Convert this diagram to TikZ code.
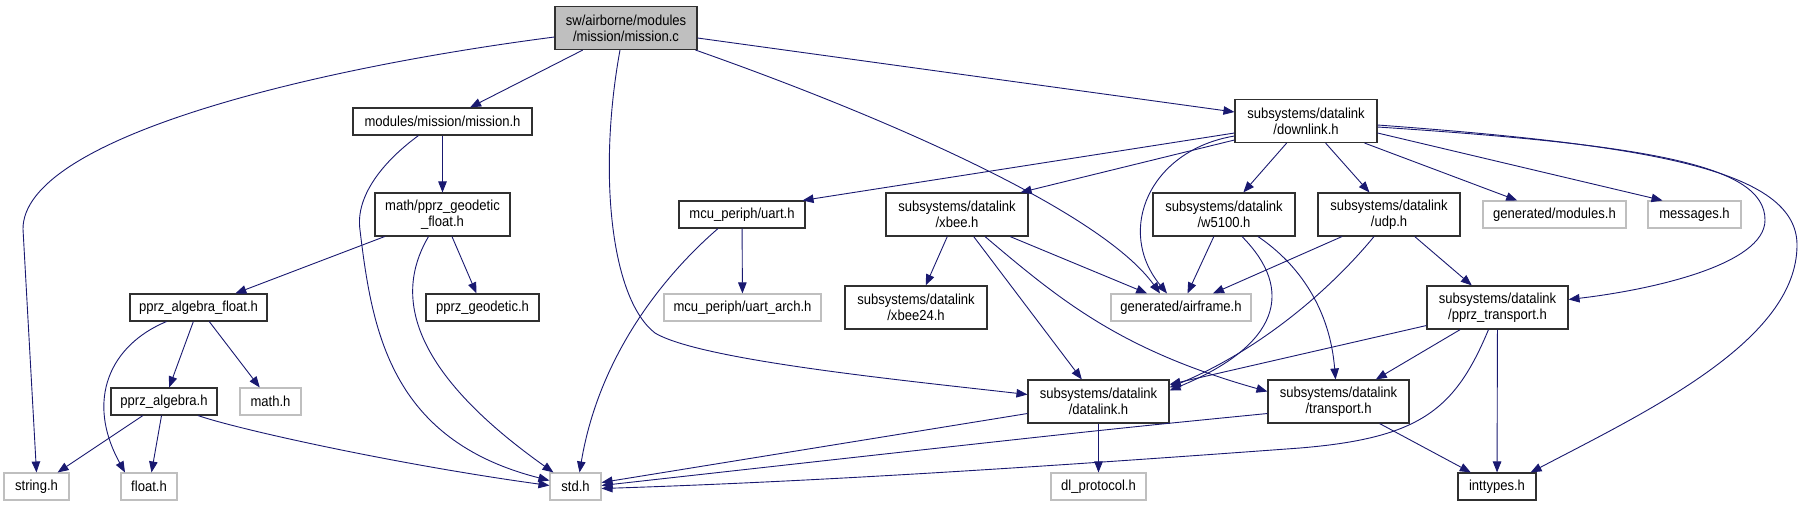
\documentclass[tikz,border=0pt]{standalone}
\usepackage{fontspec}
\setmainfont[FakeStretch=0.9]{Liberation Sans}
\usetikzlibrary{arrows.meta}
\definecolor{edgeblue}{HTML}{191970}
\definecolor{boxgray}{HTML}{BFBFBF}
\definecolor{boxdark}{HTML}{303030}

\begin{document}
\begin{tikzpicture}[x=1pt,y=-1pt,
  font=\fontsize{14.5}{16}\selectfont,
  filebox/.style={draw=boxdark,line width=1.1pt,fill=white,inner sep=0pt,align=center,minimum height=27pt},
  tallbox/.style={filebox,minimum height=43pt},
  extbox/.style={filebox,draw=boxgray},
  rootbox/.style={tallbox,fill=boxgray},
  dep/.style={draw=edgeblue,line width=0.9pt,-{Triangle[length=11pt,width=8.5pt]}}]
\useasboundingbox (0,0) rectangle (1803,507);

% files
\node[rootbox,minimum width=142pt] (mc) at (626,28) {sw/airborne/modules\\/mission/mission.c};
\node[filebox,minimum width=179pt] (mh) at (442.5,121.5) {modules/mission/mission.h};
\node[tallbox,minimum width=135pt] (pgf) at (442.5,214.5) {math/pprz\_geodetic\\\_float.h};
\node[filebox,minimum width=137pt] (paf) at (198.5,307.5) {pprz\_algebra\_float.h};
\node[filebox,minimum width=113pt] (pg) at (482.5,307.5) {pprz\_geodetic.h};
\node[filebox,minimum width=106pt] (pa) at (164,401.5) {pprz\_algebra.h};
\node[extbox,minimum width=61pt] (mathh) at (270.5,401.5) {math.h};
\node[extbox,minimum width=65pt] (strh) at (36.5,486.5) {string.h};
\node[extbox,minimum width=56pt] (floath) at (149,486.5) {float.h};
\node[extbox,minimum width=51pt] (stdh) at (575.5,486.5) {std.h};
\node[filebox,minimum width=126pt] (uart) at (742,214.5) {mcu\_periph/uart.h};
\node[extbox,minimum width=157pt] (uarta) at (742.5,307.5) {mcu\_periph/uart\_arch.h};
\node[tallbox,minimum width=142pt] (xbee) at (957,214.5) {subsystems/datalink\\/xbee.h};
\node[tallbox,minimum width=142pt] (xbee24) at (916,307.5) {subsystems/datalink\\/xbee24.h};
\node[tallbox,minimum width=142pt] (dl) at (1306,121) {subsystems/datalink\\/downlink.h};
\node[tallbox,minimum width=142pt] (w5100) at (1224,214.5) {subsystems/datalink\\/w5100.h};
\node[tallbox,minimum width=142pt] (udp) at (1389,214.5) {subsystems/datalink\\/udp.h};
\node[extbox,minimum width=143pt] (genmod) at (1554.5,214.5) {generated/modules.h};
\node[extbox,minimum width=93pt] (msgs) at (1694.5,214.5) {messages.h};
\node[extbox,minimum width=140pt] (airf) at (1181,307.5) {generated/airframe.h};
\node[tallbox,minimum width=141pt] (pprzt) at (1497.5,307.5) {subsystems/datalink\\/pprz\_transport.h};
\node[tallbox,minimum width=141pt] (datal) at (1098.5,401.5) {subsystems/datalink\\/datalink.h};
\node[tallbox,minimum width=141pt] (transp) at (1338.5,401.5) {subsystems/datalink\\/transport.h};
\node[extbox,minimum width=95pt] (dlp) at (1098.5,486.5) {dl\_protocol.h};
\node[filebox,minimum width=78pt] (intt) at (1497,486.5) {inttypes.h};

% mission.c
\draw[dep] ([yshift=-9pt]mc.west) .. controls (300,70) and (23,140) .. (23,229) -- (strh.north);
\draw[dep] (mc) -- (mh);
\draw[dep] ([xshift=-6pt]mc.south) .. controls (598,170) and (610,298) .. (655,333) .. controls (700,360) and (900,380) .. ([yshift=7pt]datal.west);
\draw[dep] ([xshift=-2pt]mc.south east) .. controls (880,115) and (1100,210) .. ([xshift=-21pt]airf.north);
\draw[dep] ([yshift=-10pt]mc.east) -- ([yshift=9pt]dl.west);

% mission.h and geodetic
\draw[dep] (mh) -- (pgf);
\draw[dep] ([xshift=-24pt]mh.south) .. controls (385,160) and (355,195) .. (360,230) .. controls (372,330) and (390,440) .. ([yshift=6pt]stdh.west);
\draw[dep] (pgf) -- (paf);
\draw[dep] (pgf) -- (pg);
\draw[dep] ([xshift=-14pt]pgf.south) .. controls (400,285) and (395,360) .. ([xshift=4pt]stdh.north west);
\draw[dep] (paf) -- (pa);
\draw[dep] (paf) -- (mathh);
\draw[dep] ([xshift=-32pt]paf.south) .. controls (110,345) and (85,400) .. ([xshift=-24pt]floath.north);
\draw[dep] (pa) -- (strh);
\draw[dep] (pa) -- (floath);
\draw[dep] ([xshift=34pt]pa.south) .. controls (240,430) and (400,465) .. ([yshift=1pt]stdh.west);

% downlink.h
\draw[dep] ([yshift=-12pt]dl.west) -- ([xshift=-3pt]uart.north east);
\draw[dep] ([yshift=-19pt]dl.west) -- ([xshift=-8pt]xbee.north east);
\draw[dep] ([yshift=-15pt]dl.west) .. controls (1150,150) and (1115,230) .. ([xshift=-14pt]airf.north);
\draw[dep] (dl) -- (w5100);
\draw[dep] (dl) -- (udp);
\draw[dep] (dl) -- (genmod);
\draw[dep] ([yshift=-12pt]dl.east) -- ([xshift=-32pt]msgs.north);
\draw[dep] ([yshift=-6pt]dl.east) .. controls (1650,145) and (1765,165) .. (1765,220) .. controls (1765,265) and (1650,290) .. ([yshift=8pt]pprzt.east);
\draw[dep] ([yshift=-4pt]dl.east) .. controls (1650,145) and (1797,170) .. (1797,245) .. controls (1797,340) and (1650,410) .. ([xshift=-6pt]intt.north east);

% uart, xbee, w5100, udp
\draw[dep] ([xshift=-24pt]uart.south) .. controls (670,270) and (600,350) .. ([xshift=4pt]stdh.north);
\draw[dep] (uart) -- (uarta);
\draw[dep] (xbee) -- (xbee24);
\draw[dep] (xbee) -- (airf);
\draw[dep] (xbee) -- (datal);
\draw[dep] ([xshift=28pt]xbee.south) .. controls (1060,300) and (1120,350) .. ([yshift=10pt]transp.west);
\draw[dep] (w5100) -- (airf);
\draw[dep] ([xshift=18pt]w5100.south) .. controls (1295,290) and (1280,345) .. ([yshift=11pt]datal.east);
\draw[dep] ([xshift=34pt]w5100.south) .. controls (1300,265) and (1330,310) .. ([xshift=-3pt]transp.north);
\draw[dep] ([xshift=-47pt]udp.south) -- ([xshift=32pt]airf.north);
\draw[dep] ([xshift=-15pt]udp.south) .. controls (1330,290) and (1260,350) .. ([yshift=14pt]datal.east);
\draw[dep] (udp) -- (pprzt);

% transports
\draw[dep] ([yshift=-18pt]pprzt.west) -- ([yshift=17pt]datal.east);
\draw[dep] (pprzt) -- (transp);
\draw[dep] ([xshift=-9pt]pprzt.south) .. controls (1455,410) and (1420,438) .. (1300,448) .. controls (1000,470) and (800,482) .. ([yshift=-2pt]stdh.east);
\draw[dep] (pprzt) -- (intt);
\draw[dep] ([yshift=-12pt]datal.west) -- ([yshift=4pt]stdh.east);
\draw[dep] (datal) -- (dlp);
\draw[dep] ([yshift=-12pt]transp.west) .. controls (1100,430) .. ([yshift=1pt]stdh.east);
\draw[dep] (transp) -- (intt);
\end{tikzpicture}
\end{document}
